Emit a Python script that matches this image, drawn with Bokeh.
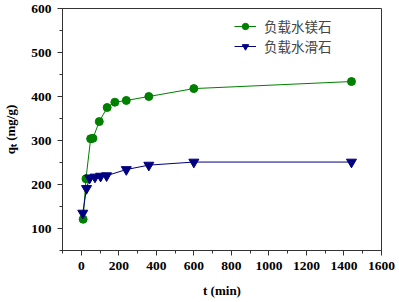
from bokeh.plotting import figure
from bokeh.models import Range1d, SingleIntervalTicker, Legend, LegendItem
from bokeh.embed import file_html
from bokeh.resources import INLINE

# data
t_mg = [10, 25, 50, 62, 96, 138, 179, 240, 360, 600, 1440]
q_mg = [121, 213, 304, 305, 343, 375, 387, 391, 400, 418, 434]
t_talc = [8, 28, 45, 73, 103, 135, 240, 360, 600, 1440]
q_talc = [135, 191, 215, 217, 219, 220, 234, 244, 251, 251]
labels = ["负载水镁石", "负载水滑石"]

GREEN = "#008000"
NAVY = "#000080"
SERIF = "Liberation Serif"

p = figure(width=399, height=302, output_backend="svg", toolbar_location=None,
           x_range=Range1d(-100, 1600), y_range=Range1d(50, 600),
           min_border_left=56, min_border_right=18, min_border_top=8, min_border_bottom=52)
p.background_fill_color = "white"
p.border_fill_color = "white"
p.outline_line_color = "#333333"
p.outline_line_width = 1
p.grid.visible = False

p.xaxis.ticker = SingleIntervalTicker(interval=200, num_minor_ticks=2)
p.yaxis.ticker = SingleIntervalTicker(interval=100, num_minor_ticks=2)
for ax in (p.xaxis[0], p.yaxis[0]):
    ax.major_tick_in = 0
    ax.major_tick_out = 5
    ax.minor_tick_in = 0
    ax.minor_tick_out = 3
    ax.axis_line_color = "#333333"
    ax.major_tick_line_color = "#333333"
    ax.minor_tick_line_color = "#333333"
    ax.major_label_text_font = SERIF
    ax.major_label_text_font_size = "13.5px"
    ax.major_label_text_font_style = "bold"
    ax.major_label_text_color = "black"
    ax.major_label_standoff = 6
    ax.axis_label_text_font = SERIF
    ax.axis_label_text_font_size = "13px"
    ax.axis_label_text_font_style = "bold"
    ax.axis_label_text_color = "black"
p.xaxis.axis_label = "t (min)"
p.yaxis.axis_label = "qₜ (mg/g)"
p.xaxis.axis_label_standoff = 10
p.yaxis.axis_label_standoff = 10

l1 = p.line(t_mg, q_mg, line_color=GREEN, line_width=1)
s1 = p.scatter(t_mg, q_mg, marker="circle", size=8, fill_color=GREEN, line_color=GREEN)
l2 = p.line(t_talc, q_talc, line_color=NAVY, line_width=1)
s2 = p.scatter(t_talc, q_talc, marker="inverted_triangle", size=10, fill_color=NAVY, line_color=NAVY)

legend = Legend(items=[LegendItem(label=labels[0], renderers=[l1, s1]),
                       LegendItem(label=labels[1], renderers=[l2, s2])],
                location=(172, 194))
legend.label_text_font = "Noto Sans CJK SC"
legend.label_text_font_size = "13.5px"
legend.label_height = 16
legend.glyph_height = 16
legend.glyph_width = 22
legend.spacing = -4
legend.padding = 4
legend.label_standoff = 8
legend.border_line_color = None
legend.background_fill_alpha = 1
p.add_layout(legend)

open("out.html", "w").write(file_html(p, INLINE))
